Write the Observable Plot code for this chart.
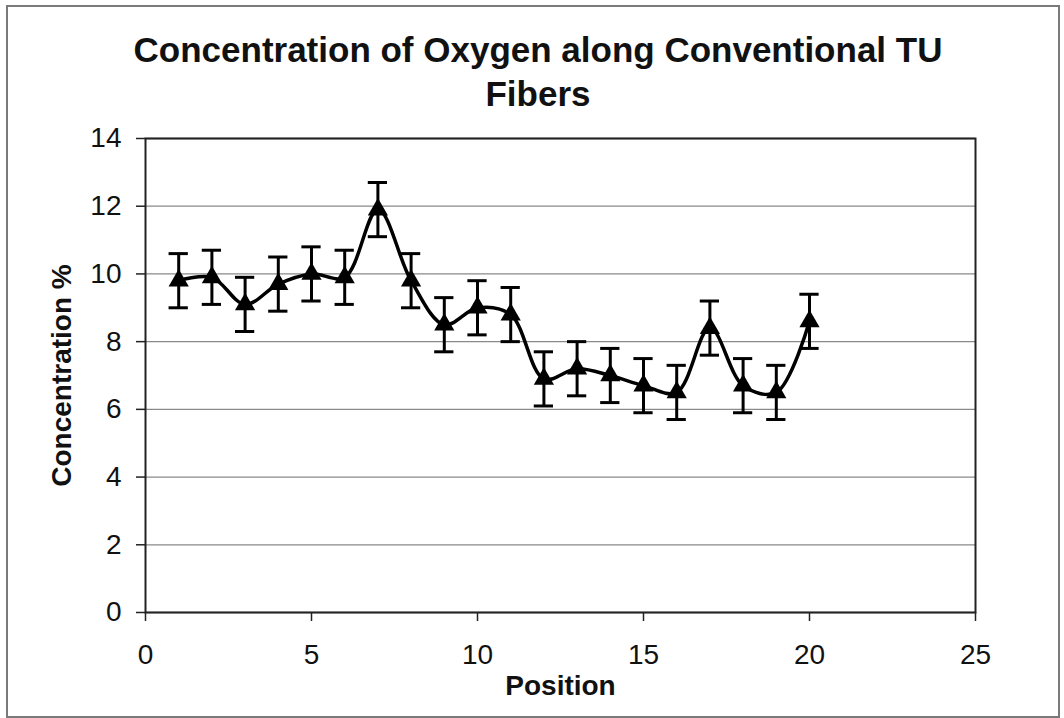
<!DOCTYPE html>
<html>
<head>
<meta charset="utf-8">
<script src="https://cdn.jsdelivr.net/npm/d3@7"></script>
<script src="https://cdn.jsdelivr.net/npm/@observablehq/plot@0.6"></script>
<style>
  html, body { margin: 0; padding: 0; background: #ffffff; }
  #wrap { position: relative; width: 1064px; height: 718px; overflow: hidden; font-family: "Liberation Sans", Arial, sans-serif; }
  #title { height: 118px; box-sizing: border-box; padding-top: 28px; padding-left: 12px; text-align: center; font-size: 35px; line-height: 44px; font-weight: bold; color: #111; }
  #border { position: absolute; left: 6px; top: 5px; width: 1050px; height: 709px; border: 2px solid #7a7a7a; pointer-events: none; }
  svg { display: block; }
</style>
</head>
<body>
<div id="wrap">
  <div id="title">Concentration of Oxygen along Conventional TU<br>Fibers</div>
  <div id="chart"></div>
  <div id="border"></div>
</div>
<script>
// Data
const positions = [1, 2, 3, 4, 5, 6, 7, 8, 9, 10, 11, 12, 13, 14, 15, 16, 17, 18, 19, 20];
const concentration = [9.8, 9.9, 9.1, 9.7, 10.0, 9.9, 11.9, 9.8, 8.5, 9.0, 8.8, 6.9, 7.2, 7.0, 6.7, 6.5, 8.4, 6.7, 6.5, 8.6];
const errorValues = [0.8, 0.8, 0.8, 0.8, 0.8, 0.8, 0.8, 0.8, 0.8, 0.8, 0.8, 0.8, 0.8, 0.8, 0.8, 0.8, 0.8, 0.8, 0.8, 0.8];
const xTicks = [0, 5, 10, 15, 20, 25];
const yTicks = [0, 2, 4, 6, 8, 10, 12, 14];
const xLabel = "Position";
const yLabel = "Concentration %";
const capHalfWidth = 0.29; // in position units

const data = positions.map((p, i) => ({
  x: p,
  y: concentration[i],
  lo: concentration[i] - errorValues[i],
  hi: concentration[i] + errorValues[i]
}));

const font = "Liberation Sans, Arial, sans-serif";

const chart = Plot.plot({
  width: 1064,
  height: 600,
  marginLeft: 145,
  marginRight: 89,
  marginTop: 20,
  marginBottom: 106,
  style: { fontFamily: font, fontSize: "28px", color: "#111", background: "transparent" },
  x: { domain: [0, 25], label: null },
  y: { domain: [0, 14], label: null },
  marks: [
    Plot.gridY(yTicks, { stroke: "#8a8a8a", strokeOpacity: 1, strokeWidth: 1.3 }),
    Plot.frame({ stroke: "#222", strokeWidth: 2 }),
    Plot.axisY({ ticks: yTicks, tickSize: 9, tickPadding: 15, fontSize: 28, stroke: "#222", strokeWidth: 1.5, label: null }),
    Plot.axisX({ ticks: xTicks, tickSize: 9, tickPadding: 23, fontSize: 28, stroke: "#222", strokeWidth: 1.5, label: null }),
    Plot.ruleX(data, { x: "x", y1: "lo", y2: "hi", stroke: "#000", strokeWidth: 3 }),
    Plot.ruleY(data, { y: "hi", x1: d => d.x - capHalfWidth, x2: d => d.x + capHalfWidth, stroke: "#000", strokeWidth: 3 }),
    Plot.ruleY(data, { y: "lo", x1: d => d.x - capHalfWidth, x2: d => d.x + capHalfWidth, stroke: "#000", strokeWidth: 3 }),
    Plot.line(data, { x: "x", y: "y", curve: "catmull-rom", stroke: "#000", strokeWidth: 3.5 }),
    Plot.dot(data, { x: "x", y: "y", symbol: "triangle", r: 7.5, fill: "#000", stroke: "none" }),
    Plot.text([yLabel], { frameAnchor: "left", textAnchor: "middle", text: d => d, rotate: -90, dx: -83, fontSize: 28, fontWeight: "bold", fill: "#111" }),
    Plot.text([xLabel], { frameAnchor: "bottom", textAnchor: "middle", text: d => d, dy: 82, fontSize: 28, fontWeight: "bold", fill: "#111" })
  ]
});

document.getElementById("chart").appendChild(chart);
</script>
</body>
</html>
